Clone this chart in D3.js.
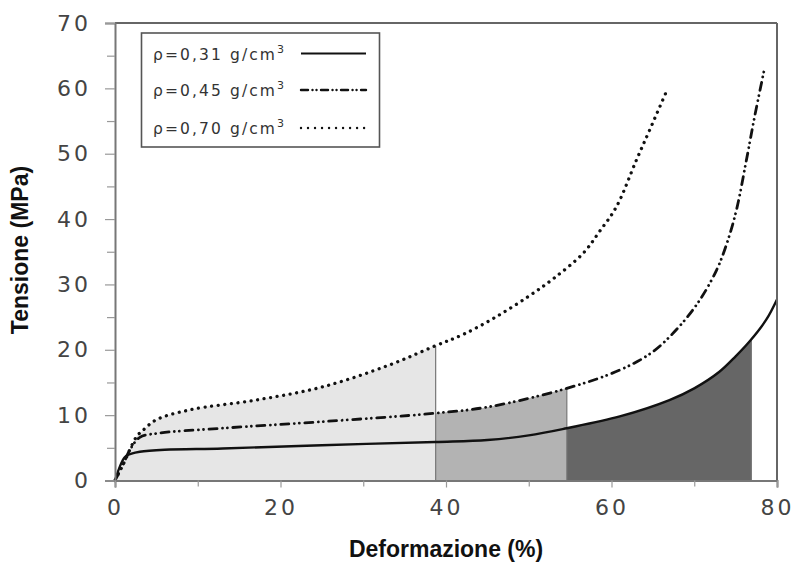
<!DOCTYPE html>
<html><head><meta charset="utf-8">
<script src="https://cdn.jsdelivr.net/npm/d3@7"></script>
<style>
body{margin:0;background:#fff;}
svg{display:block;}
</style></head>
<body>
<svg id="chart" width="795" height="564"></svg>
<script>
// ---- data ----
const seriesNames = ["ρ=0,31 g/cm", "ρ=0,45 g/cm", "ρ=0,70 g/cm"];
const x031 = [0, 1.2, 2, 3, 6, 13, 25, 38.7, 45, 50, 54.6, 61, 67, 70, 73, 75, 76.7, 78.7, 80];
const y031 = [0, 3.6, 4.1, 4.4, 4.7, 4.9, 5.4, 5.9, 6.2, 6.9, 8.0, 9.8, 12.3, 14.1, 16.6, 19.0, 21.3, 24.6, 27.7];
const x045 = [0, 1, 1.8, 3, 5, 13, 25, 38.7, 45.3, 54.6, 61, 65, 68, 70.5, 72.7, 74, 75.1, 76.3, 77.3, 78.5];
const y045 = [0, 2.5, 4.7, 6.6, 7.2, 8.0, 9.0, 10.3, 11.3, 14.1, 16.9, 19.7, 23.3, 27.3, 32.2, 36.5, 41.4, 49.0, 55.7, 63.1];
const x070 = [0, 1, 2.6, 3.4, 5, 9, 17, 25, 33, 38.7, 42, 46, 50, 53, 56.6, 58.5, 60.6, 63, 64.6, 66.7];
const y070 = [0, 2.5, 6.7, 7.7, 9.3, 10.8, 12.3, 14.3, 17.6, 20.6, 22.3, 25.0, 28.2, 30.9, 34.8, 38.0, 41.9, 49.0, 53.6, 59.7];
// shaded zones: [from, to, series index]
const zoneFrom = [0, 38.75, 54.6];
const zoneTo = [38.75, 54.6, 76.9];
const zoneSeries = [2, 1, 0];
const xTicks = [0, 20, 40, 60, 80];
const xMinor = [10, 30, 50, 70];
const yTicks = [0, 10, 20, 30, 40, 50, 60, 70];
const yMinor = [5, 15, 25, 35, 45, 55, 65];
const xTitle = "Deformazione (%)";
const yTitle = "Tensione (MPa)";

// ---- drawing ----
const svg = d3.select("#chart");
const x = d3.scaleLinear().domain([0, 80]).range([115, 777]);
const y = d3.scaleLinear().domain([0, 70]).range([480.5, 23]);

const series = [
  {xs: x031, ys: y031, dash: null, width: 2.4, legDash: null},
  {xs: x045, ys: y045, dash: "8,5.5,0.01,5,0.01,5.5", width: 2.8, legDash: "7,4.5,0.01,4,0.01,4.5"},
  {xs: x070, ys: y070, dash: "0.01,6.6", width: 3.3, legDash: "0.01,7"}
].map(s => ({...s, pts: s.xs.map((v, i) => [v, s.ys[i]])}));

const curve = d3.curveCatmullRom.alpha(0.5);
const zoneColors = ["#e6e6e6", "#b3b3b3", "#666666"];
const defs = svg.append("defs");
zoneFrom.forEach((f, i) => {
  defs.append("clipPath").attr("id", "z" + i).append("rect")
    .attr("x", x(f)).attr("y", 0)
    .attr("width", x(zoneTo[i]) - x(f)).attr("height", y(0));
});
const area = d3.area().x(d => x(d[0])).y0(y(0)).y1(d => y(d[1])).curve(curve);
zoneFrom.forEach((f, i) => {
  svg.append("path").attr("d", area(series[zoneSeries[i]].pts))
    .attr("fill", zoneColors[i]).attr("clip-path", "url(#z" + i + ")");
});
// vertical boundary lines
const interp = (s, xv) => {
  const xs = s.xs, ys = s.ys;
  for (let i = 1; i < xs.length; i++) if (xv <= xs[i]) {
    const t = (xv - xs[i-1]) / (xs[i] - xs[i-1]);
    return ys[i-1] + t * (ys[i] - ys[i-1]);
  }
  return ys[ys.length - 1];
};
zoneFrom.forEach((f, i) => {
  const xe = zoneTo[i];
  svg.append("line").attr("x1", x(xe)).attr("x2", x(xe))
    .attr("y1", y(0)).attr("y2", y(interp(series[zoneSeries[i]], xe)))
    .attr("stroke", "#777").attr("stroke-width", 1.2);
});

// curves
const line = d3.line().x(d => x(d[0])).y(d => y(d[1])).curve(curve);
series.forEach(s => {
  svg.append("path").attr("d", line(s.pts)).attr("fill", "none")
    .attr("stroke", "#111").attr("stroke-width", s.width)
    .attr("stroke-dasharray", s.dash).attr("stroke-linecap", s.dash ? "round" : "butt");
});

// frame (top + right)
svg.append("line").attr("x1", x(0)).attr("x2", x(80)).attr("y1", y(70)).attr("y2", y(70))
  .attr("stroke", "#666").attr("stroke-width", 2);
svg.append("line").attr("x1", x(80)).attr("x2", x(80)).attr("y1", y(70)).attr("y2", y(0))
  .attr("stroke", "#666").attr("stroke-width", 2);

// axes
const fontNum = "'DejaVu Sans', sans-serif";
svg.append("g").attr("transform", `translate(${x(0)},0)`)
  .call(d3.axisLeft(y).tickValues(yTicks).tickSize(10).tickPadding(14).tickFormat(d3.format("d")));
svg.append("g").attr("transform", `translate(${x(0)},0)`)
  .call(d3.axisLeft(y).tickValues(yMinor).tickSize(8).tickFormat(""))
  .call(g => g.select(".domain").remove());
const xAxis = svg.append("g").attr("transform", `translate(0,${y(0)})`)
  .call(d3.axisBottom(x).tickValues(xTicks).tickSize(7).tickPadding(12).tickFormat(d3.format("d")));
svg.append("g").attr("transform", `translate(0,${y(0)})`)
  .call(d3.axisBottom(x).tickValues(xMinor).tickSize(6).tickFormat(""))
  .call(g => g.select(".domain").remove());
svg.selectAll(".domain").attr("stroke", "#777").attr("stroke-width", 2);
svg.selectAll(".tick line").attr("stroke", "#999").attr("stroke-width", 1.2);
svg.selectAll(".tick text").attr("font-family", fontNum).attr("font-size", 22)
  .attr("fill", "#444").attr("letter-spacing", "3px");
xAxis.selectAll(".tick text").attr("dy", "0.71em");

// titles
svg.append("text").attr("x", 446).attr("y", 557).attr("text-anchor", "middle")
  .attr("font-family", "'Liberation Sans', Arial, sans-serif").attr("font-weight", "bold")
  .attr("font-size", 23).attr("fill", "#111").text(xTitle);
svg.append("text").attr("transform", "translate(28,250) rotate(-90)").attr("text-anchor", "middle")
  .attr("font-family", "'Liberation Sans', Arial, sans-serif").attr("font-weight", "bold")
  .attr("font-size", 23).attr("fill", "#111").text(yTitle);

// legend
const lg = svg.append("g");
lg.append("rect").attr("x", 141.5).attr("y", 33).attr("width", 238).attr("height", 114)
  .attr("fill", "#fff").attr("stroke", "#555").attr("stroke-width", 1.6);
const rowY = [53.5, 90, 128];
seriesNames.forEach((n, i) => {
  const t = lg.append("text").attr("x", 153).attr("y", rowY[i] + 6)
    .attr("font-family", fontNum).attr("font-size", 15.5).attr("fill", "#333")
    .attr("letter-spacing", "2.1px");
  t.append("tspan").text(n);
  t.append("tspan").attr("dy", -7).attr("font-size", 11).text("3");
  lg.append("line").attr("x1", 301).attr("x2", 366).attr("y1", rowY[i]).attr("y2", rowY[i])
    .attr("stroke", "#111").attr("stroke-width", series[i].dash ? 2.4 : 2)
    .attr("stroke-dasharray", series[i].legDash).attr("stroke-linecap", series[i].dash ? "round" : "butt");
});
</script>
</body></html>
